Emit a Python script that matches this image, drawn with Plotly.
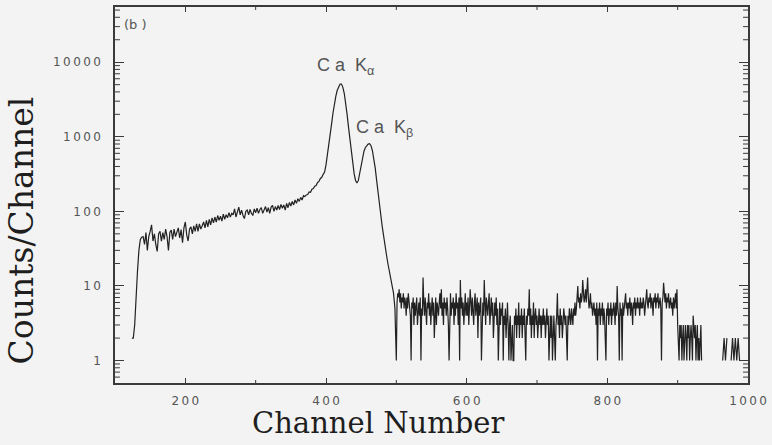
import math
import plotly.graph_objects as go

# ---- data (counts per channel) ----
rise_start, rise_step = 124, 2
rise_counts = [2, 2, 3, 9, 16, 30, 42, 45]

continuum_start, continuum_step = 140, 2
continuum_counts = [
    46, 36, 52, 30, 46, 54, 66, 40, 50, 36,
    29, 50, 54, 40, 52, 42, 58, 46, 30, 52,
    56, 42, 58, 46, 55, 60, 44, 57, 38, 60,
    72, 48, 40, 58, 62, 50, 64, 54, 68, 54,
    68, 58, 64, 72, 60, 76, 62, 78, 66, 82,
    70, 84, 72, 88, 76, 86, 74, 92, 78, 90,
    82, 96, 84, 94, 90, 108, 84, 100, 114, 90,
    104, 88, 80, 100, 104, 90, 106, 94, 88, 108,
    96, 110, 94, 106, 112, 94, 108, 116, 98, 112,
    94, 114, 120, 100, 116, 104, 120, 106, 124, 110,
    122, 104, 128, 112, 132, 118, 136, 122, 142, 128,
    148, 136, 154, 142, 162, 158, 166, 168, 182, 180,
    198, 202, 218, 222, 244, 252, 276, 286, 314, 336,
]

peak_start, peak_step = 400, 2
peak_counts = [
    420, 560, 760, 1050, 1500, 2100, 2800, 3500, 4200, 4800,
    5100, 5100, 4600, 3800, 2900, 2000, 1350, 900, 600, 420,
    320, 260, 240, 260, 330, 430, 540, 640, 720, 770,
    800, 810, 760, 650, 520, 380, 260, 170, 120, 88,
    62, 44, 33, 26, 20, 16, 13, 11, 8, 5,
]

noise_start, noise_step = 500, 1
noise_counts = [
    1, 6, 8, 7, 9, 6, 8, 5, 7, 6,
    8, 5, 7, 6, 4, 7, 5, 8, 6, 5,
    4, 1, 6, 5, 7, 3, 6, 4, 5, 7,
    3, 5, 6, 4, 7, 1, 5, 4, 13, 6,
    4, 7, 5, 3, 6, 5, 8, 4, 6, 3,
    5, 7, 4, 6, 2, 5, 7, 3, 6, 5,
    4, 6, 8, 5, 9, 4, 6, 3, 7, 5,
    6, 4, 7, 5, 3, 1, 6, 8, 4, 6,
    5, 7, 3, 6, 4, 8, 5, 6, 3, 7,
    1, 12, 5, 7, 4, 6, 3, 5, 8, 4,
    6, 4, 7, 3, 5, 9, 6, 4, 7, 5,
    3, 6, 8, 4, 5, 7, 2, 6, 4, 5,
    7, 1, 5, 6, 4, 12, 6, 3, 7, 5,
    4, 6, 8, 3, 5, 7, 4, 6, 2, 5,
    6, 4, 7, 3, 5, 1, 4, 6, 3, 5,
    4, 6, 1, 4, 3, 5, 2, 4, 6, 3,
    1, 3, 4, 1, 2, 3, 1, 1, 4, 3,
    5, 2, 4, 3, 6, 2, 4, 3, 5, 2,
    4, 3, 5, 2, 1, 4, 3, 5, 4, 9,
    3, 5, 2, 4, 3, 6, 2, 4, 5, 3,
    4, 2, 3, 5, 3, 4, 2, 4, 3, 5,
    3, 4, 2, 3, 5, 3, 4, 1, 3, 4,
    2, 4, 1, 3, 4, 2, 1, 3, 4, 8,
    3, 4, 2, 5, 3, 4, 2, 3, 5, 4,
    3, 4, 2, 1, 4, 3, 5, 4, 3, 5,
    4, 3, 5, 4, 6, 4, 5, 7, 10, 6,
    7, 5, 8, 6, 7, 12, 8, 6, 7, 9,
    6, 8, 13, 7, 5, 6, 8, 5, 6, 4,
    5, 6, 4, 5, 3, 6, 1, 5, 4, 6,
    3, 5, 4, 6, 3, 5, 4, 2, 1, 5,
    4, 6, 3, 5, 4, 6, 3, 5, 4, 6,
    5, 3, 6, 4, 10, 5, 4, 1, 6, 4,
    5, 1, 6, 4, 5, 7, 8, 5, 6, 4,
    6, 5, 7, 4, 6, 5, 3, 6, 5, 7,
    4, 6, 5, 7, 5, 6, 4, 7, 5, 6,
    5, 7, 6, 4, 6, 7, 9, 6, 5, 7,
    6, 8, 5, 7, 6, 4, 7, 6, 8, 5,
    7, 6, 8, 5, 6, 7, 5, 1, 6, 7,
    11, 7, 6, 8, 5, 7, 6, 8, 5, 6,
    7, 5, 6, 4, 7, 5, 6, 8, 5, 9,
    3, 2, 1, 3, 2, 3, 1, 2, 3, 1,
    2, 3, 2, 1, 3, 2, 3, 1, 2, 3,
    2, 1, 4, 3, 2, 3, 1, 2, 3, 1,
    2, 1, 2, 3, 1, 0, 0, 0, 0, 0,
]

tail_start, tail_step = 940, 2
tail_counts = [
    0, 0, 0, 0, 0, 0, 0, 0, 0, 0, 0, 0,
    1, 2, 1, 2, 0, 0, 1, 2, 1, 2, 1, 2, 1, 0,
]

x_tick_vals = [200, 400, 600, 800, 1000]
x_tick_text = ["2\u20090\u20090", "4\u20090\u20090", "6\u20090\u20090", "8\u20090\u20090", "1\u20090\u20090\u20090"]
y_tick_vals = [1, 10, 100, 1000, 10000]
y_tick_text = ["1", "1\u20090", "1\u20090\u20090", "1\u20090\u20090\u20090", "1\u20090\u20090\u20090\u20090"]

# ---- build the trace ----
segments = [
    (rise_start, rise_step, rise_counts),
    (continuum_start, continuum_step, continuum_counts),
    (peak_start, peak_step, peak_counts),
    (noise_start, noise_step, noise_counts),
    (tail_start, tail_step, tail_counts),
]
xs, ys = [], []
for start, step, counts in segments:
    xs.extend(range(start, start + step * len(counts), step))
    ys.extend([c if c > 0 else None for c in counts])

bg = "#f3f3f3"
frame = "#3a3a3a"
tick_font = dict(family="DejaVu Sans", size=12, color="#555555")

# plot-area geometry in pixels
L, R, T, B = 115, 20, 5, 62
W, H = 772, 445
PW, PH = W - L - R, H - T - B
Y_RANGE = [-0.301, 4.74]

fig = go.Figure()
fig.add_trace(go.Scatter(x=xs, y=ys, mode="lines",
                         line=dict(color="#222222", width=1.2),
                         connectgaps=False, showlegend=False))

fig.update_layout(
    width=W, height=H,
    margin=dict(l=L, r=R, t=T, b=B),
    paper_bgcolor=bg, plot_bgcolor=bg,
    showlegend=False,
)

fig.update_xaxes(
    range=[100, 1000], showgrid=False, zeroline=False,
    showline=True, linecolor=frame, linewidth=1.5, mirror="ticks",
    ticks="inside", ticklen=5, tickwidth=1, tickcolor=frame,
    tickmode="array", tickvals=x_tick_vals, ticktext=x_tick_text,
    tickfont=tick_font, ticklabelstandoff=6,
)
fig.update_yaxes(
    type="log", range=Y_RANGE, showgrid=False, zeroline=False,
    showline=True, linecolor=frame, linewidth=1.5, mirror="ticks",
    ticks="inside", ticklen=9, tickwidth=1, tickcolor=frame,
    tickmode="array", tickvals=y_tick_vals, ticktext=y_tick_text,
    tickfont=tick_font, ticklabelstandoff=10,
)

# minor ticks drawn as short line shapes (left/right and bottom/top)
y_minor = [m * 10 ** e for e in range(-1, 5) for m in range(2, 10)]
x_minor = [300, 500, 700, 900]
tick_style = dict(color=frame, width=1)
yminor_len = 5 / PW
for v in y_minor:
    if Y_RANGE[0] < math.log10(v) < Y_RANGE[1]:
        fig.add_shape(type="line", xref="paper", yref="y", x0=0, x1=yminor_len,
                      y0=v, y1=v, line=tick_style)
        fig.add_shape(type="line", xref="paper", yref="y", x0=1 - yminor_len, x1=1,
                      y0=v, y1=v, line=tick_style)
xminor_len = 3 / PH
for v in x_minor:
    fig.add_shape(type="line", xref="x", yref="paper", x0=v, x1=v,
                  y0=0, y1=xminor_len, line=tick_style)
    fig.add_shape(type="line", xref="x", yref="paper", x0=v, x1=v,
                  y0=1 - xminor_len, y1=1, line=tick_style)


def px_to_paper(px, py):
    return (px - L) / PW, 1 - (py - T) / PH


label_font = dict(family="Liberation Sans", size=18, color="#555555")
fig.add_annotation(x=385, y=3.94, xref="x", yref="y", text="C a  K<sub>α</sub>",
                   showarrow=False, xanchor="left", yanchor="middle", font=label_font)
fig.add_annotation(x=440.5, y=3.11, xref="x", yref="y", text="C a  K<sub>β</sub>",
                   showarrow=False, xanchor="left", yanchor="middle", font=label_font)
bx, by = px_to_paper(122, 23)
fig.add_annotation(x=bx, y=by, xref="paper", yref="paper", text="(b )",
                   showarrow=False, xanchor="left", yanchor="middle",
                   font=dict(family="DejaVu Sans", size=13, color="#555555"))

tx, ty = px_to_paper(380, 423)
fig.add_annotation(x=tx, y=ty, xref="paper", yref="paper", text="Channel Number",
                   showarrow=False, xanchor="center", yanchor="middle",
                   font=dict(family="DejaVu Serif", size=29, color="#1e1e1e"))
tx, ty = px_to_paper(21, 230)
fig.add_annotation(x=tx, y=ty, xref="paper", yref="paper", text="Counts/Channel",
                   showarrow=False, xanchor="center", yanchor="middle", textangle=-90,
                   font=dict(family="DejaVu Serif", size=33, color="#1e1e1e"))

fig.write_html("out.html")
